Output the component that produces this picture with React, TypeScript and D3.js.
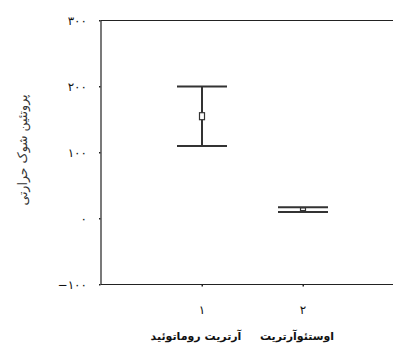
import React, { useEffect, useRef } from "react";
import * as d3 from "d3";

// گروه‌ها و مقادیر
const groups = ["1", "2"];
const groupLabels = ["آرتریت روماتوئید", "اوستئوآرتریت"];
const tickDigits = ["١", "٢"];
const means = [155, 14];
const lowers = [110, 10];
const uppers = [200, 17];
const yTicks = [300, 200, 100, 0, -100];
const yTickLabels = ["٣٠٠", "٢٠٠", "١٠٠", "٠", "−١٠٠"];

export default function App() {
  const ref = useRef<SVGSVGElement>(null);

  useEffect(() => {
    const svg = d3.select(ref.current);
    svg.selectAll("*").remove();

    const left = 101;
    const top = 20.5;
    const bottom = 284.5;
    const font = "'DejaVu Sans', 'Noto Sans', sans-serif";

    const x = d3.scalePoint<string>().domain(groups).range([left, left + 303]).padding(1);
    const y = d3.scaleLinear().domain([-100, 300]).range([bottom, top]);

    const g = svg.append("g");

    // frame: left, top, bottom
    g.append("path")
      .attr("d", `M${x.range()[1]},${top}H${left}V${bottom}H${x.range()[1]}`)
      .attr("fill", "none")
      .attr("stroke", "#222")
      .attr("stroke-width", 1.2);

    // y ticks
    yTicks.forEach((t, i) => {
      g.append("rect")
        .attr("x", left - 2)
        .attr("y", y(t) - 0.5)
        .attr("width", 1.5)
        .attr("height", 1.5)
        .attr("fill", "#222");
      g.append("text")
        .attr("x", 87)
        .attr("y", y(t))
        .attr("dy", "0.35em")
        .attr("text-anchor", "end")
        .attr("direction", "ltr")
        .attr("font-family", font)
        .attr("font-size", 12)
        .attr("fill", "#111")
        .text(yTickLabels[i]);
    });

    // x ticks and labels
    groups.forEach((c, i) => {
      const cx = x(c) as number;
      g.append("rect")
        .attr("x", cx - 0.5)
        .attr("y", bottom + 0.5)
        .attr("width", 1.5)
        .attr("height", 1.5)
        .attr("fill", "#222");
      g.append("text")
        .attr("x", cx)
        .attr("y", 310)
        .attr("dy", "0.35em")
        .attr("text-anchor", "middle")
        .attr("font-family", font)
        .attr("font-size", 12)
        .attr("fill", "#111")
        .text(tickDigits[i]);
      g.append("text")
        .attr("x", cx - 6)
        .attr("y", 336)
        .attr("dy", "0.35em")
        .attr("text-anchor", "middle")
        .attr("font-family", font)
        .attr("font-size", 11)
        .attr("font-weight", "bold")
        .attr("fill", "#111")
        .text(groupLabels[i]);
    });

    // error bars
    groups.forEach((c, i) => {
      const cx = x(c) as number;
      const hw = 25;
      const eb = g.append("g").attr("stroke", "#333").attr("stroke-width", 2).attr("fill", "none");
      eb.append("line").attr("x1", cx - hw).attr("x2", cx + hw).attr("y1", y(uppers[i])).attr("y2", y(uppers[i]));
      eb.append("line").attr("x1", cx - hw).attr("x2", cx + hw).attr("y1", y(lowers[i])).attr("y2", y(lowers[i]));
      eb.append("line").attr("x1", cx).attr("x2", cx).attr("y1", y(uppers[i])).attr("y2", y(lowers[i]));
      const h = Math.min(7, Math.abs(y(lowers[i]) - y(uppers[i])) - 2);
      eb.append("rect")
        .attr("x", cx - 2.5)
        .attr("y", y(means[i]) - h / 2)
        .attr("width", 5)
        .attr("height", h)
        .attr("fill", "#fff")
        .attr("stroke-width", 1.2);
    });

    // y axis title
    svg.append("text")
      .attr("transform", `translate(27,150) rotate(-90)`)
      .attr("text-anchor", "middle")
      .attr("font-family", font)
      .attr("font-size", 12.5)
      .attr("fill", "#333")
      .text("پروتئین شوک حرارتی");
  }, []);

  return (
    <div style={{ position: "absolute", left: 0, top: 0, width: 393, height: 345, background: "#fff" }}>
      <svg ref={ref} width={393} height={345}></svg>
    </div>
  );
}
